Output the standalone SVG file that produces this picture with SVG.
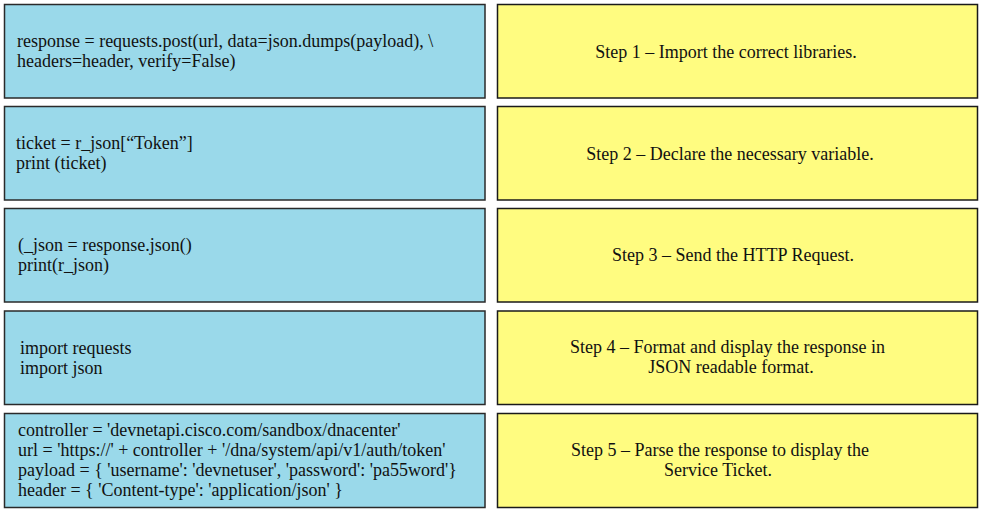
<svg xmlns="http://www.w3.org/2000/svg" width="1000" height="512" viewBox="0 0 1000 512">
<style>
.code{fill:#9AD9EA;stroke:#2a2a2a;stroke-width:1.5}
.step{fill:#FFFC80;stroke:#1a1a1a;stroke-width:1.5}
text{font-family:"Liberation Serif","Times New Roman",serif;font-size:18px;fill:#111}
.c{text-anchor:middle}
</style>
<rect width="1000" height="512" fill="#ffffff"/>
<g id="code1"><rect class="code" x="4.5" y="4.5" width="480.5" height="93.5"/>
<text x="17" y="47">response = requests.post(url, data=json.dumps(payload), \</text>
<text x="17" y="67">headers=header, verify=False)</text></g>
<g id="code2"><rect class="code" x="4.5" y="106.5" width="480.5" height="93.5"/>
<text x="16" y="149">ticket = r_json[“Token”]</text>
<text x="16" y="169">print (ticket)</text></g>
<g id="code3"><rect class="code" x="4.5" y="208.5" width="480.5" height="93.5"/>
<text x="18" y="251">(_json = response.json()</text>
<text x="18" y="271">print(r_json)</text></g>
<g id="code4"><rect class="code" x="4.5" y="311" width="480.5" height="93.5"/>
<text x="20" y="354">import requests</text>
<text x="20" y="374">import json</text></g>
<g id="code5"><rect class="code" x="4.5" y="413.5" width="480.5" height="94"/>
<text x="18" y="436">controller = 'devnetapi.cisco.com/sandbox/dnacenter'</text>
<text x="18" y="456">url = 'https://' + controller + '/dna/system/api/v1/auth/token'</text>
<text x="18" y="476">payload = { 'username': 'devnetuser', 'password': 'pa55word'}</text>
<text x="18" y="496">header = { 'Content-type': 'application/json' }</text></g>
<g id="step1"><rect class="step" x="497.5" y="4.5" width="480" height="93.5"/>
<text class="c" x="726" y="58">Step 1 – Import the correct libraries.</text></g>
<g id="step2"><rect class="step" x="497.5" y="106.5" width="480" height="93.5"/>
<text class="c" x="730" y="160">Step 2 – Declare the necessary variable.</text></g>
<g id="step3"><rect class="step" x="497.5" y="208.5" width="480" height="93.5"/>
<text class="c" x="733" y="261">Step 3 – Send the HTTP Request.</text></g>
<g id="step4"><rect class="step" x="497.5" y="311" width="480" height="93.5"/>
<text class="c" x="727.5" y="353">Step 4 – Format and display the response in</text>
<text class="c" x="731" y="373">JSON readable format.</text></g>
<g id="step5"><rect class="step" x="497.5" y="413.5" width="480" height="94"/>
<text class="c" x="720" y="456">Step 5 – Parse the response to display the</text>
<text class="c" x="718" y="476">Service Ticket.</text></g>
<g id="connectors"></g>
</svg>
